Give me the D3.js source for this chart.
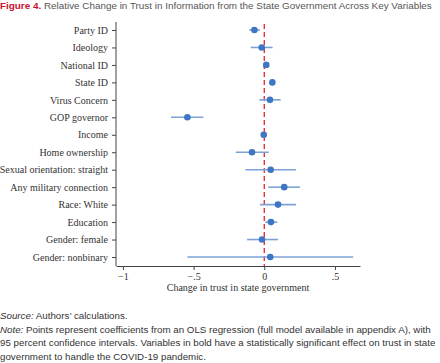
<!doctype html>
<html>
<head>
<meta charset="utf-8">
<script src="https://d3js.org/d3.v7.min.js"></script>
<style>
  body { margin: 0; background: #fff; }
  .title { position: absolute; left: 0; top: 0; font-family: "Liberation Sans", Arial, sans-serif; font-size: 9.9px; color: #555; white-space: nowrap; }
  .title b { color: #c8102e; }
  .notes { position: absolute; left: 0; top: 309px; width: 440px; font-family: "Liberation Sans", Arial, sans-serif; font-size: 9.75px; line-height: 13.6px; color: #333; white-space: nowrap; }
  .axis text { font-family: "Liberation Serif", "Times New Roman", serif; font-size: 10px; fill: #333; }
  .axis path, .axis line { stroke: #444; }
</style>
</head>
<body>
<div class="title"><b>Figure 4.</b> Relative Change in Trust in Information from the State Government Across Key Variables</div>
<svg id="chart" width="440" height="363" style="position:absolute;left:0;top:0"></svg>
<div class="notes"><i>Source:</i> Authors’ calculations.<br><i>Note:</i> Points represent coefficients from an OLS regression (full model available in appendix A), with<br>95 percent confidence intervals. Variables in bold have a statistically significant effect on trust in state<br>government to handle the COVID-19 pandemic.</div>
<script>
const variables = ["Party ID", "Ideology", "National ID", "State ID", "Virus Concern", "GOP governor", "Income",
  "Home ownership", "Sexual orientation: straight", "Any military connection", "Race: White", "Education",
  "Gender: female", "Gender: nonbinary"];
const estimates = [-0.07, -0.018, 0.014, 0.057, 0.04, -0.544, -0.004, -0.087, 0.045, 0.141, 0.097, 0.047, -0.016, 0.042];
const lower = [-0.106, -0.096, 0.002, 0.047, -0.035, -0.66, -0.014, -0.202, -0.134, 0.028, -0.03, 0.007, -0.122, -0.544];
const upper = [-0.03, 0.059, 0.026, 0.067, 0.116, -0.431, 0.006, 0.031, 0.224, 0.252, 0.224, 0.092, 0.097, 0.629];
const xTicks = [-1, -0.5, 0, 0.5];
const xTickLabels = ["−1", "−.5", "0", ".5"];

const rows = variables.map((v, i) => ({name: v, est: estimates[i], lo: lower[i], hi: upper[i]}));

const svg = d3.select("#chart");
const plotLeft = 116, plotRight = 360, plotTop = 30, plotBottom = 257, axisY = 266;

const x = d3.scaleLinear().domain([-1.049, 0.677]).range([plotLeft, plotRight]);
const y = d3.scalePoint().domain(variables).range([plotTop, plotBottom]);

// x axis
svg.append("g")
  .attr("class", "axis")
  .attr("transform", `translate(0,${axisY})`)
  .call(d3.axisBottom(x).tickValues(xTicks).tickFormat((d, i) => xTickLabels[i]).tickSize(4).tickSizeOuter(0));

// y axis
svg.append("g")
  .attr("class", "axis")
  .attr("transform", `translate(${plotLeft},0)`)
  .call(d3.axisLeft(y).tickSize(4).tickPadding(4))
  .call(g => g.select(".domain").attr("d", `M0,${plotTop - 8}V${axisY}`));

svg.append("text")
  .attr("x", (plotLeft + plotRight) / 2)
  .attr("y", 291)
  .attr("text-anchor", "middle")
  .style("font-family", "Liberation Serif, serif")
  .style("font-size", "10px")
  .style("fill", "#333")
  .text("Change in trust in state government");

// zero line
svg.append("line")
  .attr("x1", x(0)).attr("x2", x(0))
  .attr("y1", plotTop - 6).attr("y2", axisY)
  .attr("stroke", "#e8313b")
  .attr("stroke-width", 1.4)
  .attr("stroke-dasharray", "5,3");

// confidence intervals
svg.append("g").selectAll("line")
  .data(rows)
  .join("line")
  .attr("x1", d => x(d.lo)).attr("x2", d => x(d.hi))
  .attr("y1", d => y(d.name)).attr("y2", d => y(d.name))
  .attr("stroke", "#7da3d6")
  .attr("stroke-width", 1.6);

// points
svg.append("g").selectAll("circle")
  .data(rows)
  .join("circle")
  .attr("cx", d => x(d.est))
  .attr("cy", d => y(d.name))
  .attr("r", 3.3)
  .attr("fill", "#3d76c2");
</script>
</body>
</html>
